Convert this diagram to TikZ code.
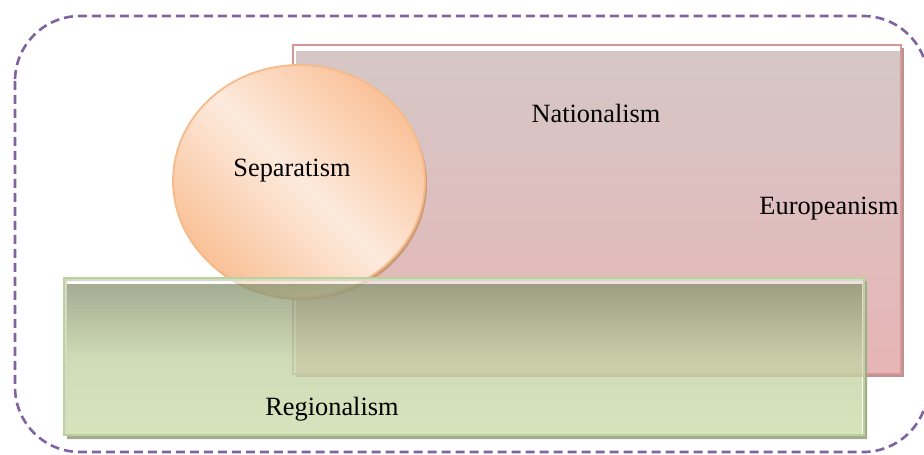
\documentclass[tikz,border=0pt]{standalone}
\usepackage{fontspec}
\setmainfont{Liberation Serif}
\definecolor{frameviolet}{HTML}{8064A2}
\definecolor{natline}{HTML}{D99594}
\definecolor{nattop}{HTML}{D6C7C7}
\definecolor{natbottom}{HTML}{E7B5B5}
\definecolor{natdark}{HTML}{B99494}
\definecolor{regline}{HTML}{BCD296}
\definecolor{regtop}{RGB}{90,106,58}
\definecolor{regbottom}{RGB}{182,206,135}
\definecolor{regdark}{HTML}{A3AB90}
\definecolor{sepedge}{HTML}{F7B987}
\definecolor{seporange}{HTML}{F9C198}
\definecolor{seplight}{HTML}{FDEADD}
\definecolor{sepdark}{HTML}{C99B78}
\tikzstyle{frame}=[frameviolet, line width=1.5pt, dash pattern=on 0.18cm off 0.1cm, rounded corners=1.3cm]
\tikzstyle{natedge}=[natline, line width=1.2pt, fill=white]
\tikzstyle{natfill}=[top color=nattop, bottom color=natbottom]
\tikzstyle{regedge}=[regline, line width=1.2pt, fill=white, fill opacity=0.55]
\tikzstyle{regfill}=[top color=regtop, bottom color=regbottom, middle color=regbottom!85!regtop, fill opacity=0.55]
\tikzstyle{sepfill}=[left color=seporange, right color=seporange, middle color=seplight, shading angle=-45]
\tikzstyle{term}=[anchor=base, inner sep=0pt, font=\fontsize{15}{18}\selectfont]

\begin{document}
\begin{tikzpicture}[x=0.02cm, y=-0.02cm]
  \useasboundingbox (0, 0) rectangle (924, 454);
  \draw[frame] (15, 16) rectangle (928, 452);
  % nationalism
  \fill[natdark] (296, 48) rectangle (904, 377);
  \draw[natedge] (293, 45) rectangle (901, 374);
  \shade[natfill] (296, 51) rectangle (900, 372);
  % separatism
  \fill[sepdark] (301, 184) ellipse [x radius=126, y radius=116];
  \shade[sepfill] (299, 181) ellipse [x radius=126, y radius=116];
  \draw[sepedge, line width=1pt] (299, 181) ellipse [x radius=126, y radius=116];
  % regionalism
  \fill[regdark, even odd rule] (67, 281) rectangle (867, 439) (64, 278) rectangle (864, 435);
  \draw[regedge] (64, 278) rectangle (864, 435);
  \shade[regfill] (67, 284) rectangle (862, 433);
  \node[term] (sep) at (292, 176) {Separatism};
  \node[term] (nat) at (596, 122) {Nationalism};
  \node[term] (eur) at (829, 214) {Europeanism};
  \node[term] (reg) at (332, 415) {Regionalism};
\end{tikzpicture}
\end{document}
